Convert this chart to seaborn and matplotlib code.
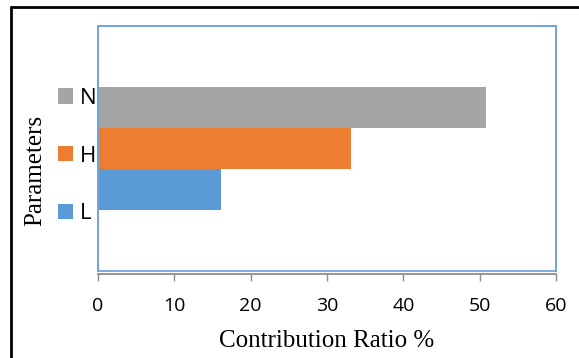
import matplotlib
matplotlib.use("Agg")
import matplotlib.pyplot as plt
import seaborn as sns
import pandas as pd
from matplotlib.lines import Line2D
from matplotlib.patches import Rectangle

parameters = ["N", "H", "L"]
contribution = [50.8, 33.1, 16.1]
colors = ["#A5A5A5", "#ED7D31", "#5B9BD5"]
xticks = [0, 10, 20, 30, 40, 50, 60]

df = pd.DataFrame({"group": ["all"] * len(parameters),
                   "Parameter": parameters,
                   "Contribution": contribution})

sns.set_style("white")
plt.rcParams["font.family"] = ["Open Sans", "DejaVu Sans"]
plt.rcParams["text.color"] = "black"
plt.rcParams["xtick.color"] = "black"
plt.rcParams["axes.labelcolor"] = "black"

fig = plt.figure(figsize=(5.79, 3.58), dpi=100)
ax = fig.add_axes([98 / 579, 1 - 271 / 358, 458 / 579, 245 / 358])

sns.barplot(data=df, x="Contribution", y="group", hue="Parameter",
            hue_order=parameters, palette=colors, orient="h",
            width=0.506, saturation=1, linewidth=0, ax=ax, legend=True)

border_blue = "#6FA6DC"
for s in ["left", "top", "right"]:
    ax.spines[s].set_color(border_blue)
    ax.spines[s].set_linewidth(1.3)
ax.spines["bottom"].set_color("#8C8C8C")
ax.spines["bottom"].set_linewidth(1.3)
ax.spines["bottom"].set_position(("outward", 2.5))
ax.add_patch(Rectangle((0, 0), 1, 1, transform=ax.transAxes, fill=False,
                       edgecolor=border_blue, linewidth=1.3, clip_on=False, zorder=5))

ax.set_xlim(0, 60)
ax.set_ylim(0.5, -0.5)
ax.set_xticks(xticks)
ax.set_xticklabels([str(t) for t in xticks])
ax.set_yticks([])
ax.set_xlabel("")
ax.set_ylabel("")
ax.tick_params(axis="x", direction="out", length=5, width=1.0, color="#8C8C8C",
               pad=11, labelcolor="black", labelsize=14, bottom=True)

handles, labels = ax.get_legend_handles_labels()
if ax.get_legend() is not None:
    ax.get_legend().remove()
fig.legend(handles, labels, loc="center left", bbox_to_anchor=(58 / 579, 1 - 156 / 358),
           frameon=False, fontsize=16, handlelength=0.68, handleheight=0.68,
           handletextpad=0.3, labelspacing=1.65, borderpad=0, borderaxespad=0,
           labelcolor="black")

fig.text(35 / 579, 1 - 170 / 358, "Parameters", rotation=90, ha="center", va="center",
         fontsize=18, family="Liberation Serif", color="black")
fig.text(327 / 579, 1 - 341 / 358, "Contribution Ratio %", ha="center", va="center",
         fontsize=18, family="Liberation Serif", color="black")

fig.add_artist(Line2D([11 / 579, 1.0], [1 - 7 / 358, 1 - 7 / 358], color="black",
                      linewidth=2, transform=fig.transFigure))
fig.add_artist(Line2D([11 / 579, 11 / 579], [0.0, 1 - 7 / 358], color="black",
                      linewidth=2, transform=fig.transFigure))

fig.savefig("out.png", dpi=100)
